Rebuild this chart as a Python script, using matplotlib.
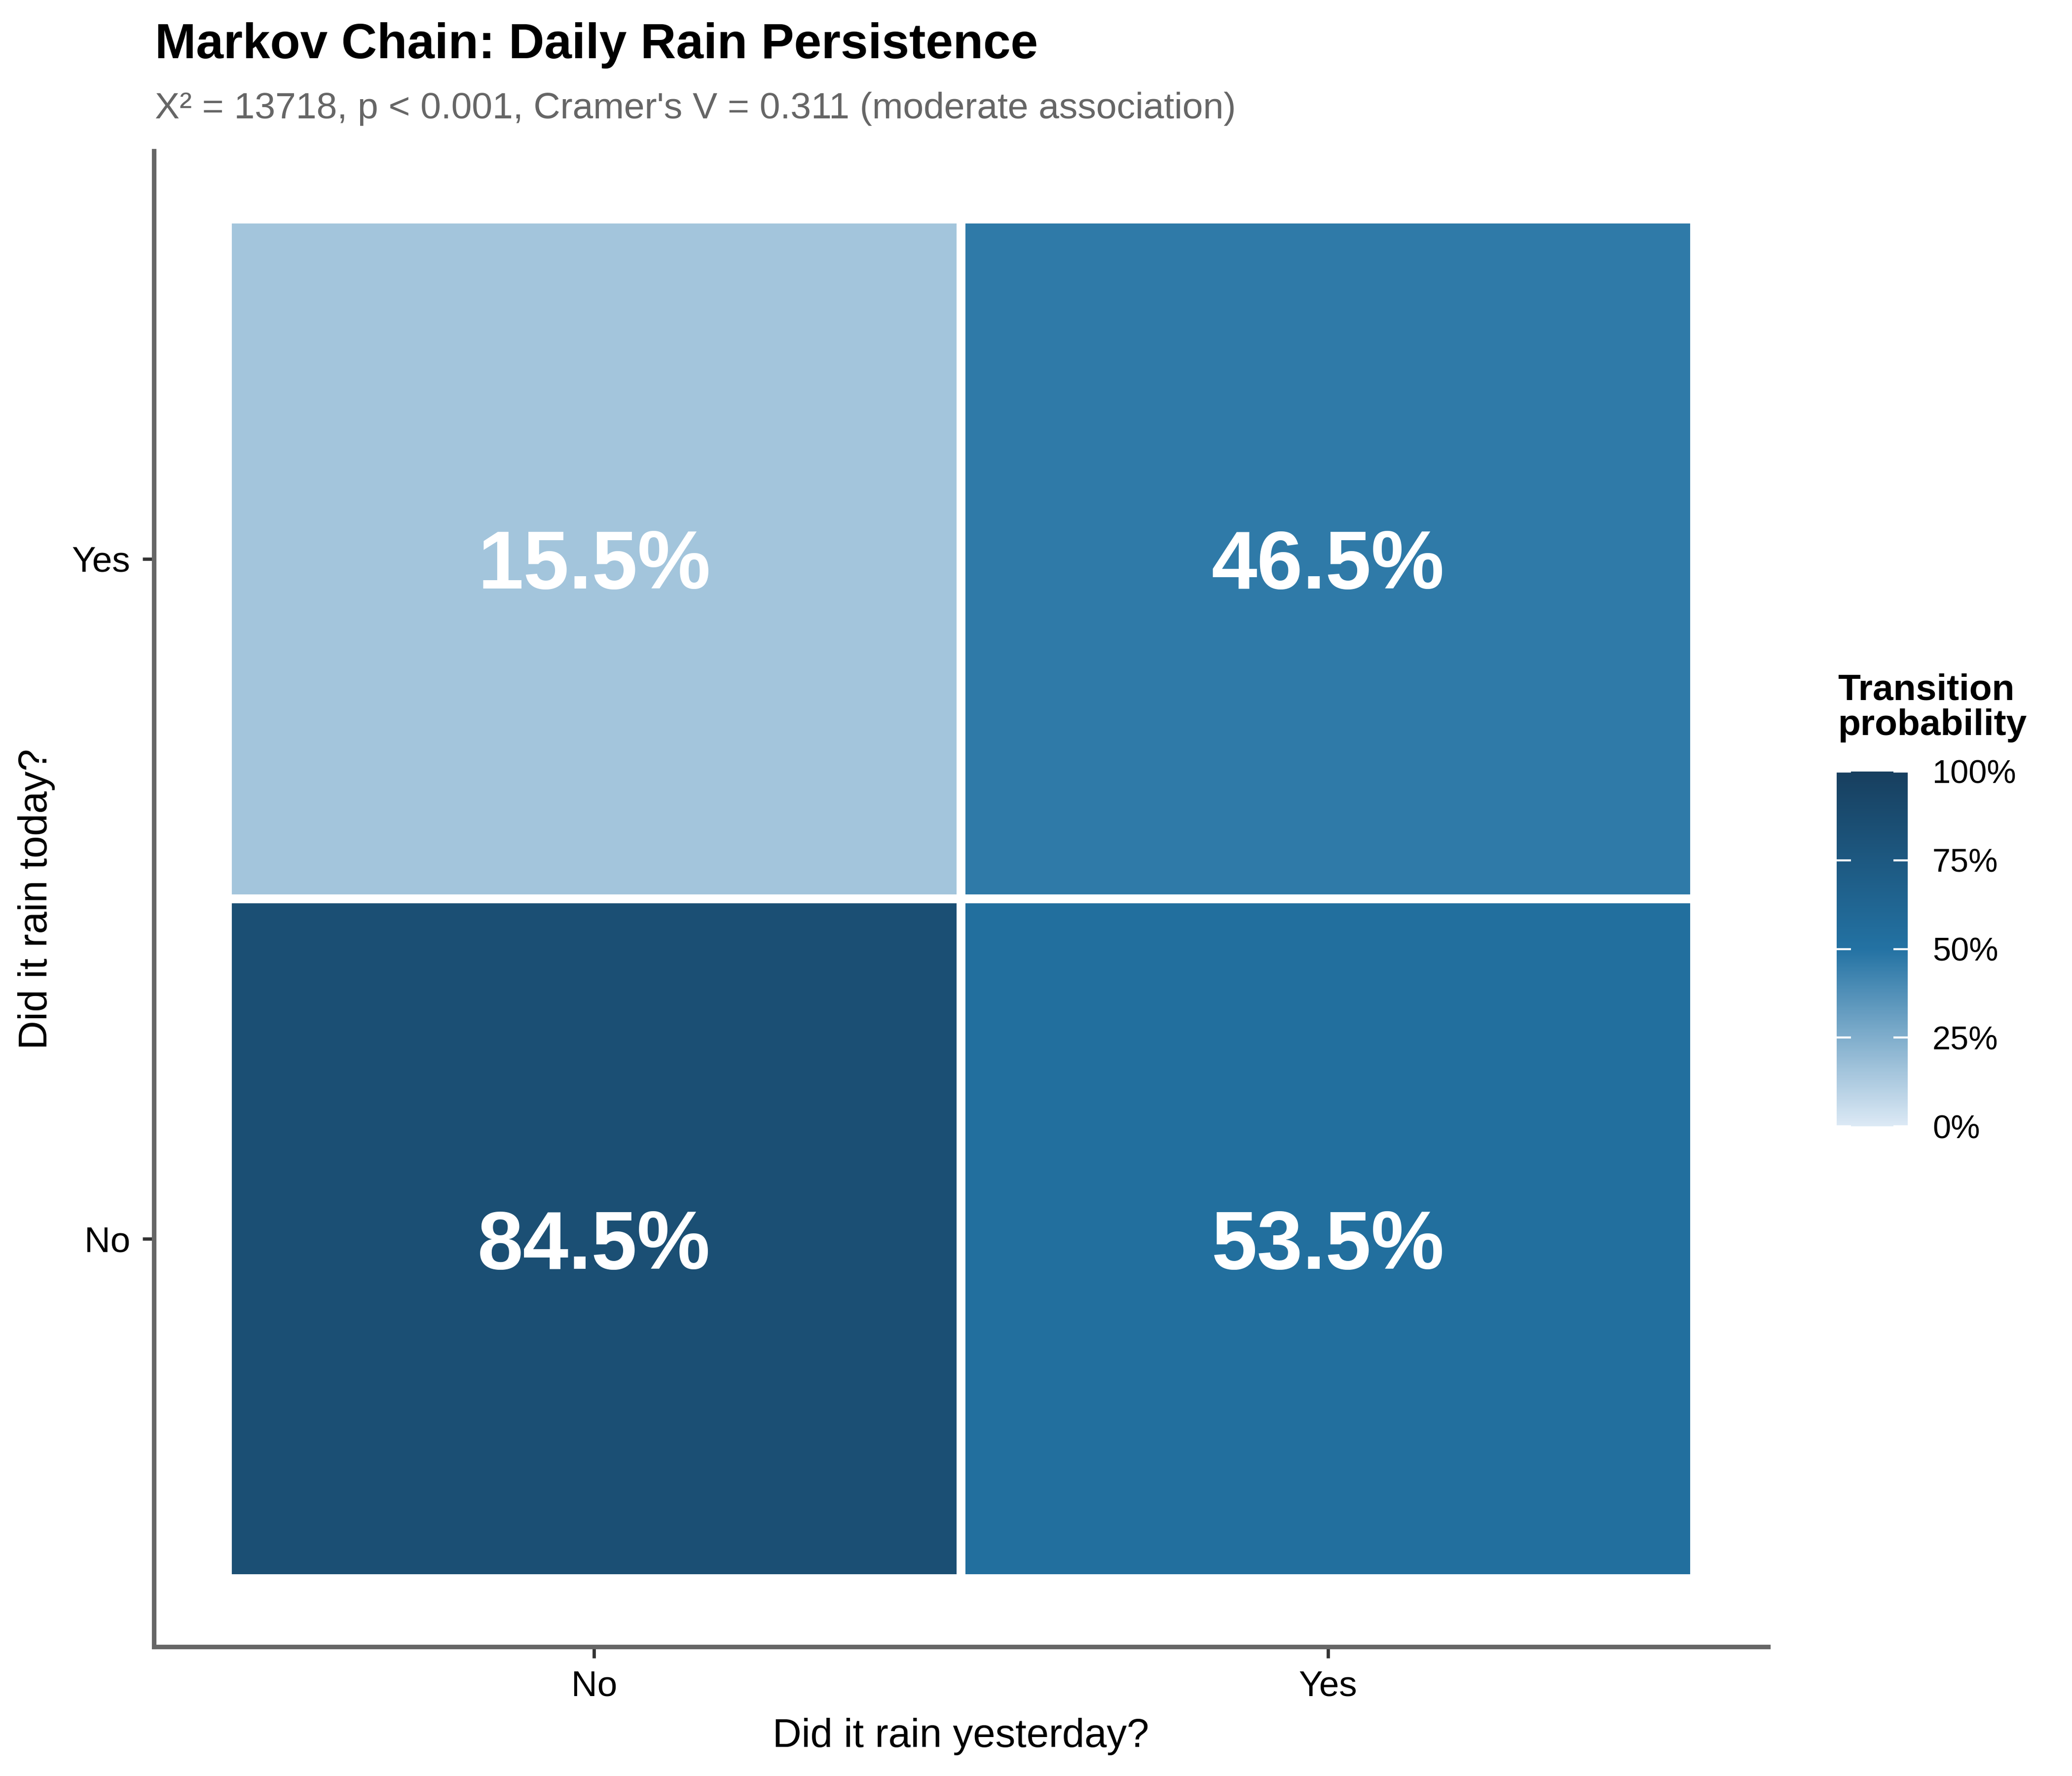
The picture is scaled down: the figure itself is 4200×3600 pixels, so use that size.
import matplotlib.pyplot as plt
import numpy as np
from matplotlib.colors import LinearSegmentedColormap, Normalize
from matplotlib.cm import ScalarMappable

plt.rcParams['font.family'] = ['Liberation Sans', 'DejaVu Sans']

# transition probabilities (%), rows = today, columns = yesterday
yesterday = ['No', 'Yes']
today = ['No', 'Yes']
prob = np.array([[84.5, 53.5],
                 [15.5, 46.5]])
cbar_ticks = [0, 25, 50, 75, 100]

title = "Markov Chain: Daily Rain Persistence"
subtitle = "X² = 13718, p < 0.001, Cramer's V = 0.311 (moderate association)"

cmap = LinearSegmentedColormap.from_list(
    'rain', [(0.0, '#dce9f5'), (0.5, '#2372a3'), (1.0, '#173f5f')])
norm = Normalize(0, 100)

fig = plt.figure(figsize=(14, 12), dpi=300)
ax = fig.add_axes([312 / 4200, 1 - 3338 / 3600, 3272 / 4200, (3338 - 306) / 3600])

xe = np.arange(len(yesterday) + 1) + 0.5
ye = np.arange(len(today) + 1) + 0.5
ax.pcolormesh(xe, ye, prob, cmap=cmap, norm=norm,
              edgecolors='white', linewidth=4.3)

for i in range(len(today)):
    for j in range(len(yesterday)):
        ax.text(j + 1, i + 1, f"{prob[i, j]:.1f}%", ha='center', va='center_baseline',
                color='white', fontsize=40, fontweight='bold')

ax.set_xlim(0.4, 2.6)
ax.set_ylim(0.4, 2.6)
ax.set_xticks([1, 2], yesterday)
ax.set_yticks([1, 2], today)
ax.tick_params(labelsize=17.5, length=5.5, width=1.6, color='#333333', pad=6)
for s in ['top', 'right']:
    ax.spines[s].set_visible(False)
for s in ['left', 'bottom']:
    ax.spines[s].set_color('#666666')
    ax.spines[s].set_linewidth(2.2)
ax.set_xlabel("Did it rain yesterday?", fontsize=19.5, labelpad=7)
ax.set_ylabel("Did it rain today?", fontsize=19.5, labelpad=8)

fig.text(314 / 4200, 1 - 118 / 3600, title, fontsize=24, fontweight='bold',
         ha='left', va='baseline')
fig.text(314 / 4200, 1 - 240 / 3600, subtitle, fontsize=18, color='#666666',
         ha='left', va='baseline')

# colour bar
cax = fig.add_axes([3723 / 4200, 1 - 2283 / 3600, 144 / 4200, 719 / 3600])
cb = fig.colorbar(ScalarMappable(norm=norm, cmap=cmap), cax=cax, ticks=cbar_ticks)
cb.outline.set_visible(False)
cax.set_yticklabels([f"{t}%" for t in cbar_ticks])
cax.tick_params(left=True, right=True, labelleft=False, labelright=True,
                direction='in', length=7, width=1, color='white',
                labelsize=16, pad=12)
fig.text(3725 / 4200, 1 - 1490 / 3600, "Transition\nprobability", fontsize=18,
         fontweight='bold', ha='left', va='baseline', linespacing=1.05)

fig.savefig('out.png', dpi=300)
